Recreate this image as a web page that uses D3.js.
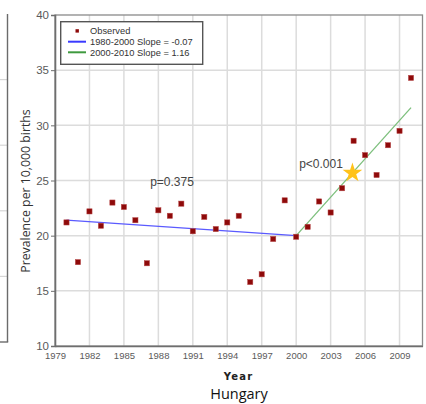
<!DOCTYPE html>
<html>
<head>
<meta charset="utf-8">
<script src="https://cdn.jsdelivr.net/npm/d3@7/dist/d3.min.js"></script>
<style>
  html, body { margin: 0; padding: 0; background: #fff; }
  svg { display: block; }
</style>
</head>
<body>
<svg id="chart" width="426" height="404"></svg>
<script>
// Observed prevalence per 10,000 births, Hungary
const years = [1980, 1981, 1982, 1983, 1984, 1985, 1986, 1987, 1988, 1989,
               1990, 1991, 1992, 1993, 1994, 1995, 1996, 1997, 1998, 1999,
               2000, 2001, 2002, 2003, 2004, 2005, 2006, 2007, 2008, 2009, 2010];
const observed = [21.2, 17.6, 22.2, 20.9, 23.0, 22.6, 21.4, 17.5, 22.3, 21.8,
                  22.9, 20.4, 21.7, 20.6, 21.2, 21.8, 15.8, 16.5, 19.7, 23.2,
                  19.9, 20.8, 23.1, 22.1, 24.3, 28.6, 27.3, 25.5, 28.2, 29.5, 34.3];

// Joinpoint segments: start year, end year, value at start, slope per year
const segmentNames = ["1980-2000 Slope = -0.07", "2000-2010 Slope = 1.16"];
const segmentStart = [1980, 2000];
const segmentEnd = [2000, 2010];
const segmentStartValue = [21.4, 20.0];
const segmentSlope = [-0.07, 1.16];
const segmentP = ["p=0.375", "p<0.001"];

// Highlighted point on the second segment
const starYear = [2004.9];

const xTicks = [1979, 1982, 1985, 1988, 1991, 1994, 1997, 2000, 2003, 2006, 2009];
const yTicks = [10, 15, 20, 25, 30, 35, 40];

const svg = d3.select("#chart");

const plot = { left: 55, right: 422.5, top: 15, bottom: 346 };
const x = d3.scaleLinear().domain([1979, 2011]).range([plot.left, plot.right]);
const y = d3.scaleLinear().domain([10, 40]).range([plot.bottom, plot.top]);

const narrow = "'Liberation Sans Narrow', 'Liberation Sans', Arial, sans-serif";
const sans = "'Liberation Sans', Arial, sans-serif";

// Edge of the neighbouring panel on the left
const ny = d3.scaleLinear().domain([0, 5]).range([342, 14]);
const nGrid = svg.append("g");
nGrid.selectAll("line.ng").data(d3.range(1, 5)).join("line")
  .attr("x1", 0).attr("x2", 7.5)
  .attr("y1", d => ny(d)).attr("y2", d => ny(d))
  .attr("stroke", "#d6d6d6").attr("stroke-width", 1.2);
nGrid.append("line").attr("x1", 7.5).attr("x2", 7.5)
  .attr("y1", ny(5)).attr("y2", ny(0))
  .attr("stroke", "#6b6b6b").attr("stroke-width", 1.4);
nGrid.append("line").attr("x1", 0).attr("x2", 8.2)
  .attr("y1", ny(0)).attr("y2", ny(0))
  .attr("stroke", "#6b6b6b").attr("stroke-width", 1.4);

// Grid
const grid = svg.append("g");
grid.selectAll("line.gx").data(xTicks.slice(1)).join("line")
  .attr("x1", d => x(d)).attr("x2", d => x(d))
  .attr("y1", plot.top).attr("y2", plot.bottom)
  .attr("stroke", "#dcdcdc").attr("stroke-width", 1.5);
grid.selectAll("line.gy").data(yTicks.slice(1, -1)).join("line")
  .attr("x1", plot.left).attr("x2", plot.right)
  .attr("y1", d => y(d)).attr("y2", d => y(d))
  .attr("stroke", "#dcdcdc").attr("stroke-width", 1.5);

// Frame
svg.append("rect")
  .attr("x", plot.left).attr("y", plot.top)
  .attr("width", plot.right - plot.left).attr("height", plot.bottom - plot.top)
  .attr("fill", "none").attr("stroke", "#8a8a8a").attr("stroke-width", 1.3);

// Axes
const yAxis = svg.append("g")
  .attr("transform", `translate(${plot.left},0)`)
  .call(d3.axisLeft(y).tickValues(yTicks).tickSize(4).tickPadding(2).tickFormat(d3.format("d")));
const xAxis = svg.append("g")
  .attr("transform", `translate(0,${plot.bottom})`)
  .call(d3.axisBottom(x).tickValues(xTicks).tickSize(0).tickPadding(6).tickFormat(d3.format("d")));
[xAxis, yAxis].forEach(g => {
  g.select(".domain").attr("stroke", "#6e6e6e").attr("stroke-width", 1.6);
  g.selectAll(".tick line").attr("stroke", "#6e6e6e");
  g.selectAll(".tick text").attr("fill", "#5a5a5a").attr("font-family", narrow);
});
yAxis.selectAll(".tick text").attr("font-size", 11.5);
xAxis.selectAll(".tick text").attr("font-size", 9.5);

// Fitted segments
const segColors = ["#5a5aff", "#7cbf7c"];
const segs = segmentNames.map((name, i) => ({
  x1: segmentStart[i], x2: segmentEnd[i],
  v1: segmentStartValue[i],
  v2: segmentStartValue[i] + segmentSlope[i] * (segmentEnd[i] - segmentStart[i]),
  color: segColors[i]
}));
svg.append("g").selectAll("line").data(segs).join("line")
  .attr("x1", d => x(d.x1)).attr("y1", d => y(d.v1))
  .attr("x2", d => x(d.x2)).attr("y2", d => y(d.v2))
  .attr("stroke", d => d.color).attr("stroke-width", 1.3);

// Observed points
svg.append("g").selectAll("rect").data(years.map((yr, i) => [yr, observed[i]])).join("rect")
  .attr("x", d => x(d[0]) - 2.6).attr("y", d => y(d[1]) - 2.6)
  .attr("width", 5.2).attr("height", 5.2)
  .attr("fill", "#8e0a0a").attr("stroke", "#b84a4a").attr("stroke-width", 0.5);

// Star on the rising segment
const starVal = segmentStartValue[1] + segmentSlope[1] * (starYear[0] - segmentStart[1]);
svg.append("path")
  .attr("d", d3.symbol(d3.symbolStar).size(120)())
  .attr("transform", `translate(${x(starYear[0])},${y(starVal)})`)
  .attr("fill", "#ffc21a");

// p-values
svg.append("text").attr("x", 172).attr("y", 186)
  .attr("text-anchor", "middle").attr("font-family", sans).attr("font-size", 12)
  .attr("fill", "#444").text(segmentP[0]);
svg.append("text").attr("x", 321).attr("y", 168)
  .attr("text-anchor", "middle").attr("font-family", sans).attr("font-size", 12)
  .attr("fill", "#444").text(segmentP[1]);

// Legend
const lg = svg.append("g");
lg.append("rect").attr("x", 60.7).attr("y", 21.7).attr("width", 142).attr("height", 42.6)
  .attr("fill", "#fff").attr("stroke", "#555").attr("stroke-width", 1.4);
lg.append("rect").attr("x", 75.5).attr("y", 29.2).attr("width", 3.4).attr("height", 3.4)
  .attr("fill", "#8e0a0a");
const legendColors = ["#3a3aff", "#3f9a3f"];
const legendY = [41.7, 52.3];
segmentNames.forEach((name, i) => {
  lg.append("line").attr("x1", 68).attr("x2", 86).attr("y1", legendY[i]).attr("y2", legendY[i])
    .attr("stroke", legendColors[i]).attr("stroke-width", 2);
});
const legendLabels = ["Observed"].concat(segmentNames);
lg.selectAll("text").data(legendLabels).join("text")
  .attr("x", 90).attr("y", (d, i) => [30.9, 41.7, 52.3][i] + 3.3)
  .attr("font-family", sans).attr("font-size", 9.3).attr("fill", "#333")
  .text(d => d);

// Axis titles
svg.append("text")
  .attr("transform", "translate(30,191) rotate(-90)")
  .attr("text-anchor", "middle").attr("font-family", "'Open Sans', 'Noto Sans', sans-serif")
  .attr("font-size", 12.3).attr("fill", "#333")
  .text("Prevalence per 10,000 births");
svg.append("text").attr("x", 238.5).attr("y", 379.5)
  .attr("text-anchor", "middle").attr("font-family", "'DejaVu Sans', Verdana, sans-serif")
  .attr("font-weight", "bold").attr("font-size", 10).attr("letter-spacing", 1.2)
  .attr("fill", "#222").text("Year");
svg.append("text").attr("x", 239).attr("y", 399)
  .attr("text-anchor", "middle").attr("font-family", "'Open Sans', 'Noto Sans', sans-serif")
  .attr("font-size", 14.5).attr("fill", "#111").text("Hungary");
</script>
</body>
</html>
